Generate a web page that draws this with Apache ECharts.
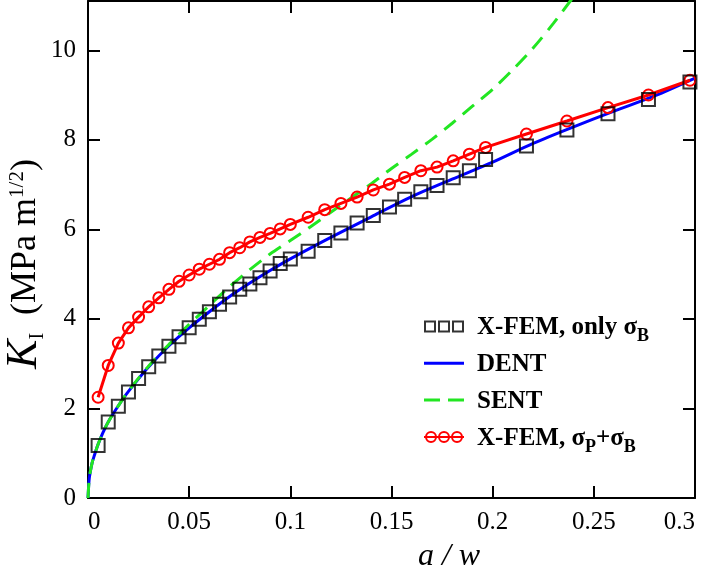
<!DOCTYPE html>
<html><head><meta charset="utf-8">
<script src="https://cdn.jsdelivr.net/npm/echarts@6/dist/echarts.min.js"></script>
<style>html,body{margin:0;padding:0;background:#fff}#c{width:701px;height:578px}</style>
</head><body><div id="c"></div>
<script>
// ---- tick labels ----
const xTicks = [0, 0.05, 0.1, 0.15, 0.2, 0.25, 0.3];
const xTickLabels = ['0', '0.05', '0.1', '0.15', '0.2', '0.25', '0.3'];
const yTicks = [0, 2, 4, 6, 8, 10];
const yTickLabels = ['0', '2', '4', '6', '8', '10'];

// ---- series names ----
const seriesNames = ['X-FEM, only σB', 'DENT', 'SENT', 'X-FEM, σP+σB'];

// ---- X-FEM, only sigma_B (squares) ----
const sqX = [0.005,0.01,0.015,0.02,0.025,0.03,0.035,0.04,0.045,0.05,0.055,0.06,0.065,0.07,0.075,0.08,0.085,0.09,0.095,0.1,0.1088,0.117,0.125,0.133,0.141,0.149,0.1565,0.1645,0.1725,0.1805,0.1885,0.1965,0.2167,0.2367,0.257,0.277,0.2975];
const sqY = [1.17,1.70,2.05,2.37,2.67,2.93,3.17,3.39,3.60,3.80,3.99,4.16,4.33,4.49,4.66,4.78,4.92,5.07,5.24,5.34,5.51,5.75,5.92,6.14,6.31,6.50,6.67,6.84,6.98,7.15,7.31,7.56,7.86,8.22,8.58,8.90,9.29];

// ---- X-FEM, sigma_P + sigma_B (red circles) ----
const redX = [0.005,0.01,0.015,0.02,0.025,0.03,0.035,0.04,0.045,0.05,0.055,0.06,0.065,0.07,0.075,0.08,0.085,0.09,0.095,0.1,0.1088,0.117,0.125,0.133,0.141,0.149,0.1565,0.1645,0.1725,0.1805,0.1885,0.1965,0.2167,0.2367,0.257,0.277,0.2975];
const redY = [2.25,2.96,3.46,3.80,4.04,4.27,4.47,4.66,4.84,4.98,5.11,5.22,5.33,5.48,5.59,5.72,5.82,5.91,6.01,6.11,6.27,6.44,6.58,6.72,6.88,7.01,7.16,7.31,7.39,7.53,7.68,7.83,8.13,8.42,8.72,9.00,9.33];

// ---- DENT (blue solid) ----
const dentX = [0,0.0005,0.001,0.002,0.003,0.005,0.0075,0.01,0.015,0.02,0.03,0.04,0.05,0.06,0.07,0.08,0.09,0.1,0.12,0.14,0.16,0.18,0.2,0.22,0.24,0.26,0.28,0.3];
const dentY = [0,0.38,0.55,0.78,0.93,1.2,1.47,1.7,2.06,2.38,2.93,3.40,3.80,4.16,4.50,4.80,5.08,5.34,5.82,6.28,6.73,7.12,7.50,7.92,8.29,8.64,8.98,9.38];

// ---- SENT (green dashed) ----
const sentX = [0,0.0005,0.001,0.002,0.003,0.005,0.0075,0.01,0.015,0.02,0.03,0.04,0.05,0.06,0.07,0.08,0.09,0.1,0.11,0.12,0.13,0.14,0.15,0.16,0.17,0.18,0.19,0.2,0.21,0.22,0.23,0.24];
const sentY = [0,0.38,0.55,0.78,0.93,1.2,1.47,1.7,2.06,2.39,2.95,3.43,3.88,4.30,4.72,5.10,5.45,5.75,6.06,6.38,6.70,7.02,7.36,7.68,8.01,8.37,8.75,9.13,9.57,10.05,10.60,11.20];

const zip = (xs, ys) => xs.map((x, i) => [x, ys[i]]);
const FONT = '"Liberation Serif", "Times New Roman", serif';
const lookup = (ticks, labels) => v => {
  const i = ticks.findIndex(t => Math.abs(t - v) < 1e-9);
  return i >= 0 ? labels[i] : '';
};

const legendRich = {
  n: { fontFamily: FONT, fontSize: 25, fontWeight: 'bold', color: '#000', lineHeight: 28, verticalAlign: 'bottom', padding: [0, 0, 5, 0] },
  s: { fontFamily: FONT, fontSize: 18, fontWeight: 'bold', color: '#000', lineHeight: 6, verticalAlign: 'bottom' }
};
const legendFormat = {
  'X-FEM, only σB': '{n|X-FEM, only σ}{s|B}',
  'DENT': '{n|DENT}',
  'SENT': '{n|SENT}',
  'X-FEM, σP+σB': '{n|X-FEM, σ}{s|P}{n|+σ}{s|B}'
};

const axisCommon = {
  type: 'value',
  axisLine: { show: true, onZero: false, lineStyle: { color: '#000', width: 2 } },
  axisTick: { show: true, inside: true, length: 12, lineStyle: { color: '#000', width: 2 } },
  splitLine: { show: false }
};

const chart = echarts.init(document.getElementById('c'), null, { renderer: 'canvas' });
chart.setOption({
  animation: false,
  backgroundColor: '#fff',
  grid: { left: 88, right: 6, top: 1, bottom: 80 },
  xAxis: [
    Object.assign({}, axisCommon, {
      min: 0, max: 0.3, interval: 0.05, position: 'bottom',
      axisLabel: { color: '#000', fontFamily: FONT, fontSize: 25, margin: 12,
        alignMinLabel: 'left', alignMaxLabel: 'right', formatter: lookup(xTicks, xTickLabels) }
    }),
    Object.assign({}, axisCommon, {
      min: 0, max: 0.3, interval: 0.05, position: 'top', axisLabel: { show: false }
    })
  ],
  yAxis: [
    Object.assign({}, axisCommon, {
      min: 0, max: 11.1, interval: 2, position: 'left',
      axisLabel: { color: '#000', fontFamily: FONT, fontSize: 25, margin: 12, formatter: lookup(yTicks, yTickLabels) }
    }),
    Object.assign({}, axisCommon, {
      min: 0, max: 11.1, interval: 2, position: 'right', axisLabel: { show: false }
    })
  ],
  legend: {
    orient: 'vertical', left: 418, top: 310.5, itemWidth: 40, itemHeight: 10, itemGap: 6.8,
    selectedMode: false,
    data: [
      { name: seriesNames[0], icon: 'path://M0,0h10v10h-10z M14,0h10v10h-10z M28,0h10v10h-10z',
        itemStyle: { color: 'rgba(0,0,0,0)', borderColor: '#000', borderWidth: 2 } },
      { name: seriesNames[1], icon: 'path://M0,0h40v3h-40z', itemStyle: { color: '#0000ff', borderWidth: 0 } },
      { name: seriesNames[2], icon: 'path://M0,0h16v3h-16z M24,0h16v3h-16z', itemStyle: { color: '#22e622', borderWidth: 0 } },
      { name: seriesNames[3], icon: 'path://M0,6L40,6M2,6a5,5 0 1,0 10,0a5,5 0 1,0 -10,0M15,6a5,5 0 1,0 10,0a5,5 0 1,0 -10,0M28,6a5,5 0 1,0 10,0a5,5 0 1,0 -10,0',
        itemStyle: { color: 'rgba(0,0,0,0)', borderColor: '#ff0000', borderWidth: 2 } }
    ],
    formatter: name => legendFormat[name] || name,
    textStyle: { fontFamily: FONT, fontSize: 25, fontWeight: 'bold', color: '#000', padding: [10, 0, 0, 8], rich: legendRich }
  },
  series: [
    { type: 'line', name: seriesNames[1], data: zip(dentX, dentY), showSymbol: false, symbol: 'none',
      smooth: 0.3, lineStyle: { color: '#0000ff', width: 3 }, itemStyle: { color: '#0000ff' }, z: 1 },
    { type: 'line', name: seriesNames[2], data: zip(sentX, sentY), showSymbol: false, symbol: 'none',
      smooth: 0.3, lineStyle: { color: '#22e622', width: 3, type: [15, 9] }, itemStyle: { color: '#22e622' }, z: 2 },
    { type: 'line', name: seriesNames[3], data: zip(redX, redY), symbol: 'circle', symbolSize: 11, showSymbol: true,
      lineStyle: { color: '#ff0000', width: 3 }, itemStyle: { color: 'rgba(0,0,0,0)', borderColor: '#ff0000', borderWidth: 2 }, z: 3 },
    { type: 'scatter', name: seriesNames[0], data: zip(sqX, sqY), symbol: 'rect', symbolSize: 13,
      itemStyle: { color: 'rgba(0,0,0,0)', borderColor: '#000', borderWidth: 2 }, z: 4 }
  ],
  graphic: [
    { type: 'text', x: 27, y: 264, rotation: Math.PI / 2,
      style: {
        text: '{k|K}{ks|I}{n|  (MPa m}{sp|1/2}{n|)}',
        align: 'center', verticalAlign: 'middle', fill: '#000',
        rich: {
          k: { fontFamily: FONT, fontSize: 44, fontStyle: 'italic', verticalAlign: 'bottom', padding: [0, 0, 6, 0], fill: '#000' },
          ks: { fontFamily: FONT, fontSize: 20, verticalAlign: 'bottom', padding: [0, 0, 4, 0], fill: '#000' },
          n: { fontFamily: FONT, fontSize: 36, verticalAlign: 'bottom', padding: [0, 0, 8, 0], fill: '#000' },
          sp: { fontFamily: FONT, fontSize: 21, verticalAlign: 'bottom', padding: [0, 0, 24, 0], fill: '#000' }
        }
      } },
    { type: 'text', x: 449, y: 557,
      style: { text: 'a / w', fontFamily: FONT, fontSize: 32, fontStyle: 'italic', align: 'center', verticalAlign: 'middle', fill: '#000' } }
  ]
});
</script>
</body></html>
